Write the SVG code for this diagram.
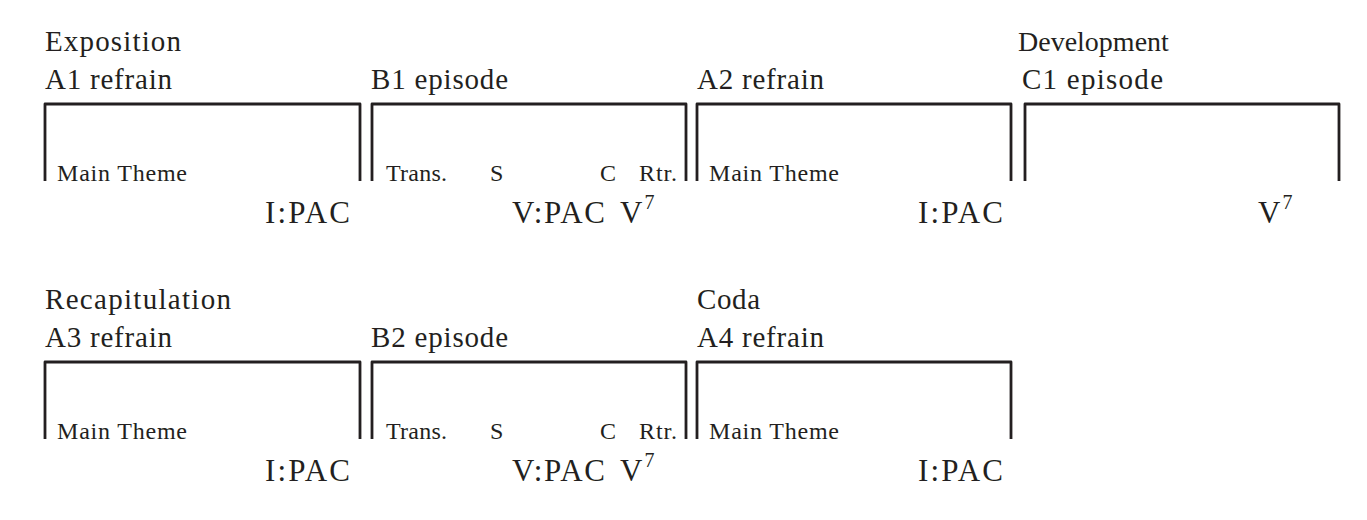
<svg xmlns="http://www.w3.org/2000/svg" width="1367" height="520" viewBox="0 0 1367 520">
<style>
text{font-family:"Liberation Serif","Times New Roman",serif;fill:#231f20}
.t{font-size:29px}
.s{font-size:24px}
.c{font-size:31px}
.sup{font-size:20px}
.br{fill:none;stroke:#231f20;stroke-width:2.8;stroke-linejoin:round}
</style>
<rect width="1367" height="520" fill="#fff"/>
<g id="row1">
<text class="t" x="45" y="51" textLength="136">Exposition</text>
<text class="t" x="1018" y="51" style="font-size:28px">Development</text>
<g id="A1">
<text class="t" x="45" y="89" textLength="127">A1 refrain</text>
<path class="br" d="M45,181V104H360V181"/>
<text class="s" x="57" y="181" textLength="130">Main Theme</text>
<text class="c" x="350" y="223" text-anchor="end" textLength="85">I:PAC</text>
</g>
<g id="B1">
<text class="t" x="371" y="89" textLength="137">B1 episode</text>
<path class="br" d="M372,181V104H686V181"/>
<text class="s" x="386" y="181" textLength="61">Trans.</text>
<text class="s" x="490" y="181">S</text>
<text class="s" x="600" y="181">C</text>
<text class="s" x="639" y="181" textLength="38">Rtr.</text>
<text class="c" x="605" y="223" text-anchor="end" textLength="93">V:PAC</text>
<text class="c" x="620" y="223">V<tspan class="sup" dx="2" dy="-14">7</tspan></text>
</g>
<g id="A2">
<text class="t" x="697" y="89" textLength="127">A2 refrain</text>
<path class="br" d="M697,181V104H1011V181"/>
<text class="s" x="709" y="181" textLength="130">Main Theme</text>
<text class="c" x="1003" y="223" text-anchor="end" textLength="85">I:PAC</text>
</g>
<g id="C1">
<text class="t" x="1022" y="89" textLength="141">C1 episode</text>
<path class="br" d="M1025,181V104H1339V181"/>
<text class="c" x="1258" y="223">V<tspan class="sup" dx="2" dy="-14">7</tspan></text>
</g>
</g>
<g id="row2">
<text class="t" x="45" y="309" textLength="186">Recapitulation</text>
<text class="t" x="697" y="309" textLength="63">Coda</text>
<g id="A3">
<text class="t" x="45" y="347" textLength="127">A3 refrain</text>
<path class="br" d="M45,439V362H360V439"/>
<text class="s" x="57" y="439" textLength="130">Main Theme</text>
<text class="c" x="350" y="481" text-anchor="end" textLength="85">I:PAC</text>
</g>
<g id="B2">
<text class="t" x="371" y="347" textLength="137">B2 episode</text>
<path class="br" d="M372,439V362H686V439"/>
<text class="s" x="386" y="439" textLength="61">Trans.</text>
<text class="s" x="490" y="439">S</text>
<text class="s" x="600" y="439">C</text>
<text class="s" x="639" y="439" textLength="38">Rtr.</text>
<text class="c" x="605" y="481" text-anchor="end" textLength="93">V:PAC</text>
<text class="c" x="620" y="481">V<tspan class="sup" dx="2" dy="-14">7</tspan></text>
</g>
<g id="A4">
<text class="t" x="697" y="347" textLength="127">A4 refrain</text>
<path class="br" d="M697,439V362H1011V439"/>
<text class="s" x="709" y="439" textLength="130">Main Theme</text>
<text class="c" x="1003" y="481" text-anchor="end" textLength="85">I:PAC</text>
</g>
</g>
<g id="connectors"/>
</svg>
